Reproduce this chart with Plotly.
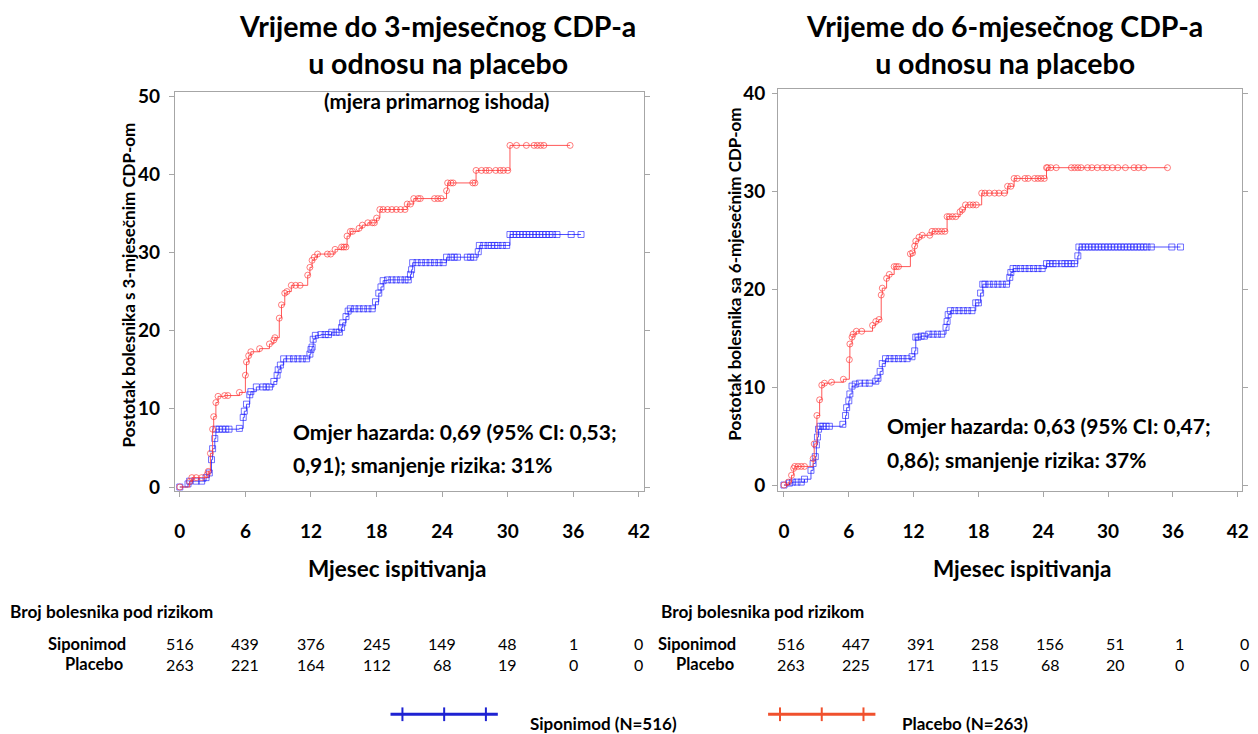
import plotly.graph_objects as go

W, H = 1258, 734

# ---------------- data ----------------
month_ticks = [0, 6, 12, 18, 24, 30, 36, 42]

# 3-month CDP: (month, cumulative % with CDP) - every plotted point (steps and censor marks)
cdp3_placebo = [
    (0, 0), (0.9, 0.7), (1.1, 1.2), (1.5, 1.2), (2.0, 1.2), (2.5, 1.6), (2.6, 2.0), (2.8, 4.3),
    (3.0, 7.4), (3.1, 9.0), (3.3, 10.8), (3.5, 11.6), (4.1, 11.7), (4.4, 11.7), (5.45, 12.1),
    (6.0, 14.3), (6.1, 16.0), (6.3, 16.8), (6.5, 17.3), (7.3, 17.7), (8.2, 18.3), (8.6, 18.8),
    (8.7, 19.1), (9.1, 21.6), (9.3, 23.3), (9.6, 24.8), (9.8, 25.0), (10.2, 25.8), (10.6, 25.8),
    (11.0, 25.8), (11.7, 27.1), (11.9, 28.1), (12.1, 29.0), (12.3, 29.4), (12.6, 29.8),
    (13.5, 29.8), (13.8, 29.8), (14.2, 30.4), (14.8, 30.7), (15.0, 30.7), (15.2, 30.7),
    (15.3, 32.1), (15.6, 32.7), (15.8, 32.7), (16.4, 33.1), (16.7, 33.5), (17.2, 33.8),
    (17.6, 33.8), (17.8, 33.8), (18.0, 34.4), (18.3, 35.5), (18.6, 35.5), (19.0, 35.5),
    (19.4, 35.5), (19.8, 35.5), (20.2, 35.5), (20.6, 35.5), (20.8, 36.2), (21.1, 36.2),
    (21.4, 36.9), (21.8, 36.9), (22.0, 36.9), (23.3, 36.9), (23.6, 36.9), (23.9, 36.9),
    (24.4, 37.9), (24.5, 38.9), (24.8, 38.9), (25.0, 38.9), (26.8, 38.9), (27.0, 38.9),
    (27.1, 40.5), (27.6, 40.5), (28.0, 40.5), (28.3, 40.5), (28.9, 40.5), (29.3, 40.5),
    (29.6, 40.5), (30.0, 40.5), (30.2, 43.7), (30.8, 43.7), (31.7, 43.7), (32.4, 43.7),
    (32.7, 43.7), (33.0, 43.7), (33.3, 43.7), (35.7, 43.7),
]
cdp3_siponimod = [
    (0, 0), (0.75, 0.4), (0.9, 0.75), (1.5, 0.75), (2.0, 0.75), (2.4, 1.2), (2.7, 1.8),
    (2.9, 3.5), (3.0, 4.9), (3.2, 6.2), (3.3, 7.4), (3.6, 7.4), (3.9, 7.4), (4.2, 7.4),
    (4.5, 7.4), (5.45, 7.5), (5.8, 8.9), (5.9, 9.7), (6.1, 10.6), (6.4, 11.8), (6.5, 12.2),
    (7.0, 12.8), (7.6, 12.8), (7.9, 12.8), (8.2, 12.8), (8.6, 13.5), (8.9, 14.3), (9.0, 15.0),
    (9.2, 15.6), (9.5, 16.4), (10.0, 16.4), (10.4, 16.4), (10.8, 16.4), (11.2, 16.4),
    (11.6, 16.4), (11.9, 17.0), (12.0, 17.6), (12.1, 17.9), (12.2, 18.9), (12.4, 19.4),
    (12.9, 19.5), (13.3, 19.5), (13.6, 19.5), (13.9, 19.8), (14.3, 19.8), (14.6, 19.8),
    (14.8, 20.4), (14.9, 21.0), (15.2, 21.8), (15.4, 22.5), (15.6, 22.8), (16.0, 22.8),
    (16.4, 22.8), (16.8, 22.8), (17.2, 22.8), (17.6, 22.8), (17.9, 23.7), (18.2, 24.8),
    (18.4, 25.6), (18.6, 26.4), (19.0, 26.5), (19.4, 26.5), (19.8, 26.5), (20.2, 26.5),
    (20.6, 26.5), (20.9, 26.5), (21.1, 27.2), (21.2, 27.8), (21.3, 28.7), (21.7, 28.7),
    (22.1, 28.7), (22.5, 28.7), (22.9, 28.7), (23.3, 28.7), (23.7, 28.7), (24.1, 28.7),
    (24.4, 29.4), (24.8, 29.4), (25.1, 29.4), (25.4, 29.4), (26.3, 29.4), (26.6, 29.4),
    (26.9, 29.4), (27.3, 30.1), (27.4, 30.9), (27.8, 30.9), (28.2, 30.9), (28.5, 30.9),
    (28.8, 30.9), (29.1, 30.9), (29.5, 30.9), (29.9, 30.9), (30.2, 32.3), (30.5, 32.3),
    (30.8, 32.3), (31.1, 32.3), (31.4, 32.3), (31.7, 32.3), (32.0, 32.3), (32.3, 32.3),
    (32.6, 32.3), (32.9, 32.3), (33.2, 32.3), (33.5, 32.3), (33.8, 32.3), (34.1, 32.3),
    (34.5, 32.3), (35.8, 32.3), (36.7, 32.3),
]

# 6-month CDP
cdp6_placebo = [
    (0, 0), (0.4, 0.3), (0.7, 1.0), (0.9, 1.7), (1.0, 1.9), (1.3, 1.9), (1.6, 1.9), (1.9, 1.9),
    (2.7, 2.7), (2.8, 4.2), (3.05, 7.1), (3.3, 8.7), (3.5, 10.2), (3.75, 10.4), (4.4, 10.5),
    (5.5, 10.8), (6.05, 12.8), (6.1, 14.4), (6.3, 15.1), (6.4, 15.4), (6.7, 15.7), (7.2, 15.7),
    (8.2, 16.3), (8.5, 16.7), (8.8, 16.9), (9.0, 19.4), (9.1, 20.1), (9.5, 21.1), (9.75, 21.5),
    (10.2, 22.3), (10.4, 22.3), (10.6, 22.3), (11.7, 23.6), (11.9, 23.7), (12.1, 24.4),
    (12.2, 24.9), (12.5, 25.3), (12.8, 25.5), (13.5, 25.5), (13.7, 25.9), (14.0, 25.9),
    (14.3, 25.9), (14.6, 25.9), (14.9, 25.9), (15.1, 27.4), (15.3, 27.4), (15.6, 27.4),
    (15.9, 27.4), (16.3, 27.9), (16.5, 28.1), (16.8, 28.6), (17.2, 28.6), (17.5, 28.6),
    (17.8, 28.6), (18.3, 29.8), (18.6, 29.8), (19.0, 29.8), (19.5, 29.8), (19.9, 29.8),
    (20.4, 29.8), (20.7, 30.5), (21.0, 30.5), (21.3, 31.3), (21.6, 31.3), (22.3, 31.3),
    (22.6, 31.3), (23.2, 31.3), (23.5, 31.3), (23.8, 31.3), (24.1, 31.3), (24.3, 32.4),
    (24.4, 32.4), (24.7, 32.4), (25.2, 32.4), (26.6, 32.4), (26.9, 32.4), (27.2, 32.4),
    (27.5, 32.4), (28.1, 32.4), (28.5, 32.4), (29.0, 32.4), (29.5, 32.4), (29.9, 32.4),
    (30.4, 32.4), (30.9, 32.4), (31.6, 32.4), (32.4, 32.4), (32.8, 32.4), (33.3, 32.4),
    (35.5, 32.4),
]
cdp6_siponimod = [
    (0, 0), (0.5, 0.2), (0.8, 0.3), (1.2, 0.3), (1.6, 0.3), (1.9, 0.6), (2.5, 1.5), (2.7, 2.2),
    (2.9, 2.9), (3.0, 4.1), (3.1, 4.9), (3.2, 5.7), (3.35, 6.0), (3.6, 6.0), (3.9, 6.0),
    (4.2, 6.0), (5.45, 6.2), (5.7, 7.1), (5.8, 7.9), (6.0, 8.6), (6.1, 9.3), (6.3, 10.1),
    (6.6, 10.3), (7.0, 10.4), (7.5, 10.4), (7.9, 10.4), (8.5, 10.6), (8.7, 10.9), (8.9, 11.6),
    (9.1, 12.4), (9.4, 12.9), (9.8, 12.9), (10.2, 12.9), (10.6, 12.9), (11.0, 12.9),
    (11.4, 12.9), (11.85, 13.1), (12.1, 13.7), (12.2, 15.1), (12.4, 15.1), (12.7, 15.2),
    (13.0, 15.2), (13.4, 15.4), (13.8, 15.4), (14.2, 15.4), (14.6, 15.4), (15.0, 16.1),
    (15.1, 16.7), (15.2, 17.4), (15.4, 17.8), (15.8, 17.8), (16.2, 17.8), (16.6, 17.8),
    (17.0, 17.8), (17.4, 17.8), (17.75, 18.6), (18.0, 18.6), (18.2, 19.6), (18.4, 20.5),
    (18.6, 20.5), (19.0, 20.5), (19.4, 20.5), (19.8, 20.5), (20.2, 20.5), (20.6, 20.5),
    (20.9, 21.2), (21.0, 21.7), (21.2, 22.1), (21.5, 22.1), (21.9, 22.1), (22.3, 22.1),
    (22.7, 22.1), (23.1, 22.1), (23.5, 22.1), (23.9, 22.1), (24.3, 22.6), (24.6, 22.6),
    (24.9, 22.6), (25.2, 22.6), (25.7, 22.6), (26.0, 22.6), (26.3, 22.6), (26.6, 22.6),
    (26.9, 22.6), (27.2, 23.4), (27.3, 24.3), (27.6, 24.3), (27.9, 24.3), (28.2, 24.3),
    (28.5, 24.3), (28.8, 24.3), (29.1, 24.3), (29.4, 24.3), (29.7, 24.3), (30.0, 24.3),
    (30.3, 24.3), (30.6, 24.3), (30.9, 24.3), (31.2, 24.3), (31.5, 24.3), (31.8, 24.3),
    (32.1, 24.3), (32.4, 24.3), (32.7, 24.3), (33.0, 24.3), (33.3, 24.3), (33.6, 24.3),
    (34.0, 24.3), (35.9, 24.3), (36.7, 24.3),
]

# numbers at risk
risk_months = [0, 6, 12, 18, 24, 30, 36, 42]
risk3_siponimod = [516, 439, 376, 245, 149, 48, 1, 0]
risk3_placebo = [263, 221, 164, 112, 68, 19, 0, 0]
risk6_siponimod = [516, 447, 391, 258, 156, 51, 1, 0]
risk6_placebo = [263, 225, 171, 115, 68, 20, 0, 0]

# ---------------- figure ----------------
FONT = "Lato"
RED_LINE = "rgba(255,70,70,0.9)"
RED_MK = "rgba(255,40,40,0.6)"
BLUE_LINE = "rgba(60,60,255,0.9)"
BLUE_MK = "rgba(20,20,255,0.6)"


def px(x):
    return x / W


def py(y):
    return 1 - y / H


fig = go.Figure()


def add_curve(data, xa, ya, line_col, mk_col, symbol):
    fig.add_trace(go.Scatter(
        x=[p[0] for p in data], y=[p[1] for p in data],
        xaxis=xa, yaxis=ya, mode="lines+markers",
        line=dict(shape="hv", color=line_col, width=1),
        marker=dict(symbol=symbol, size=6, color=mk_col, line=dict(width=1, color=mk_col)),
        showlegend=False, hoverinfo="skip",
    ))


add_curve(cdp3_siponimod, "x", "y", BLUE_LINE, BLUE_MK, "square-open")
add_curve(cdp3_placebo, "x", "y", RED_LINE, RED_MK, "circle-open")
add_curve(cdp6_siponimod, "x2", "y2", BLUE_LINE, BLUE_MK, "square-open")
add_curve(cdp6_placebo, "x2", "y2", RED_LINE, RED_MK, "circle-open")

axis_common = dict(
    showgrid=False, zeroline=False, showline=True, linecolor="#a6a6a6", linewidth=1,
    ticks="outside", ticklen=5, tickcolor="#a6a6a6",
    tickfont=dict(family=FONT, size=19, color="black", weight="bold"),
)

fig.update_layout(
    width=W, height=H, margin=dict(l=0, r=0, t=0, b=0),
    paper_bgcolor="white", plot_bgcolor="white",
    xaxis=dict(domain=[px(175), px(647)], range=[-0.45, 42.45], tickvals=month_ticks,
               mirror=True, ticklabelstandoff=18, **axis_common),
    yaxis=dict(domain=[py(493), py(86)], range=[-0.5, 50.5], tickvals=[0, 10, 20, 30, 40, 50],
               mirror="ticks", ticklabelstandoff=5, **axis_common),
    xaxis2=dict(domain=[px(782), px(1249)], range=[-0.55, 42.4], tickvals=month_ticks,
                mirror=True, ticklabelstandoff=18, anchor="y2", **axis_common),
    yaxis2=dict(domain=[py(493), py(83)], range=[-0.6, 40.4], tickvals=[0, 10, 20, 30, 40],
                mirror="ticks", ticklabelstandoff=3, anchor="x2", **axis_common),
)

ann = []


def text(x, y, s, size, bold=True, xanchor="center", angle=0, xref="paper", xshift=0):
    ann.append(dict(
        x=x, y=y, xref=xref, yref="paper", text=s, showarrow=False,
        xanchor=xanchor, yanchor="middle", textangle=angle, xshift=xshift,
        font=dict(family=FONT, size=size, color="black", weight="bold" if bold else "normal"),
    ))


# titles
text(px(439), py(37), "Vrijeme do 3-mjesečnog CDP-a<br>u odnosu na placebo", 28.5)
text(px(1010), py(37), "Vrijeme do 6-mjesečnog CDP-a<br>u odnosu na placebo", 28.5)
text(px(438), py(95), "(mjera primarnog ishoda)", 20.5)

# axis titles
text(px(128), py(283), "Postotak bolesnika s 3-mjesečnim CDP-om", 17, angle=-90)
text(px(738), py(272), "Postotak bolesnika sa 6-mjesečnim CDP-om", 17, angle=-90)
text(px(399), py(572), "Mjesec ispitivanja", 22.5)
text(px(1028), py(572), "Mjesec ispitivanja", 22.5)

# hazard ratio text
text(px(292), py(432), "Omjer hazarda: 0,69 (95% CI: 0,53;", 21, xanchor="left")
text(px(292), py(466), "0,91); smanjenje rizika: 31%", 21, xanchor="left")
text(px(890), py(426), "Omjer hazarda: 0,63 (95% CI: 0,47;", 21, xanchor="left")
text(px(890), py(461), "0,86); smanjenje rizika: 37%", 21, xanchor="left")

# risk tables
text(px(7), py(616), "Broj bolesnika pod rizikom", 17.3, xanchor="left")
text(px(662), py(616), "Broj bolesnika pod rizikom", 17.3, xanchor="left")
ROW1, ROW2 = 649, 670
text(px(128), py(ROW1), "Siponimod", 16.5, xanchor="right")
text(px(125), py(ROW2), "Placebo", 16.5, xanchor="right")
text(px(742), py(ROW1), "Siponimod", 16.5, xanchor="right")
text(px(740), py(ROW2), "Placebo", 16.5, xanchor="right")
for m, a, b in zip(risk_months, risk3_siponimod, risk3_placebo):
    text(m, py(ROW1), str(a), 16, bold=False, xref="x")
    text(m, py(ROW2), str(b), 16, bold=False, xref="x")
for m, a, b in zip(risk_months, risk6_siponimod, risk6_placebo):
    text(m, py(ROW1), str(a), 16, bold=False, xref="x2", xshift=7)
    text(m, py(ROW2), str(b), 16, bold=False, xref="x2", xshift=7)

# legend
text(px(530), py(730), "Siponimod (N=516)", 17, xanchor="left")
text(px(905), py(730), "Placebo (N=263)", 17, xanchor="left")

shapes = []
for (x0, x1, col) in [(392, 500, "#1e22d2"), (772, 880, "#f0502d")]:
    shapes.append(dict(type="line", xref="paper", yref="paper", x0=px(x0), x1=px(x1),
                       y0=py(721), y1=py(721), line=dict(color=col, width=3)))
    for k in range(3):
        xt = x0 + 12 + k * (x1 - x0 - 24) / 2
        shapes.append(dict(type="line", xref="paper", yref="paper", x0=px(xt), x1=px(xt),
                           y0=py(714), y1=py(728), line=dict(color=col, width=2)))

fig.update_layout(annotations=ann, shapes=shapes)
fig.write_html(
    "out.html",
    config={"displayModeBar": False},
    post_script="document.body.style.margin='0';document.body.style.overflow='hidden';",
)
